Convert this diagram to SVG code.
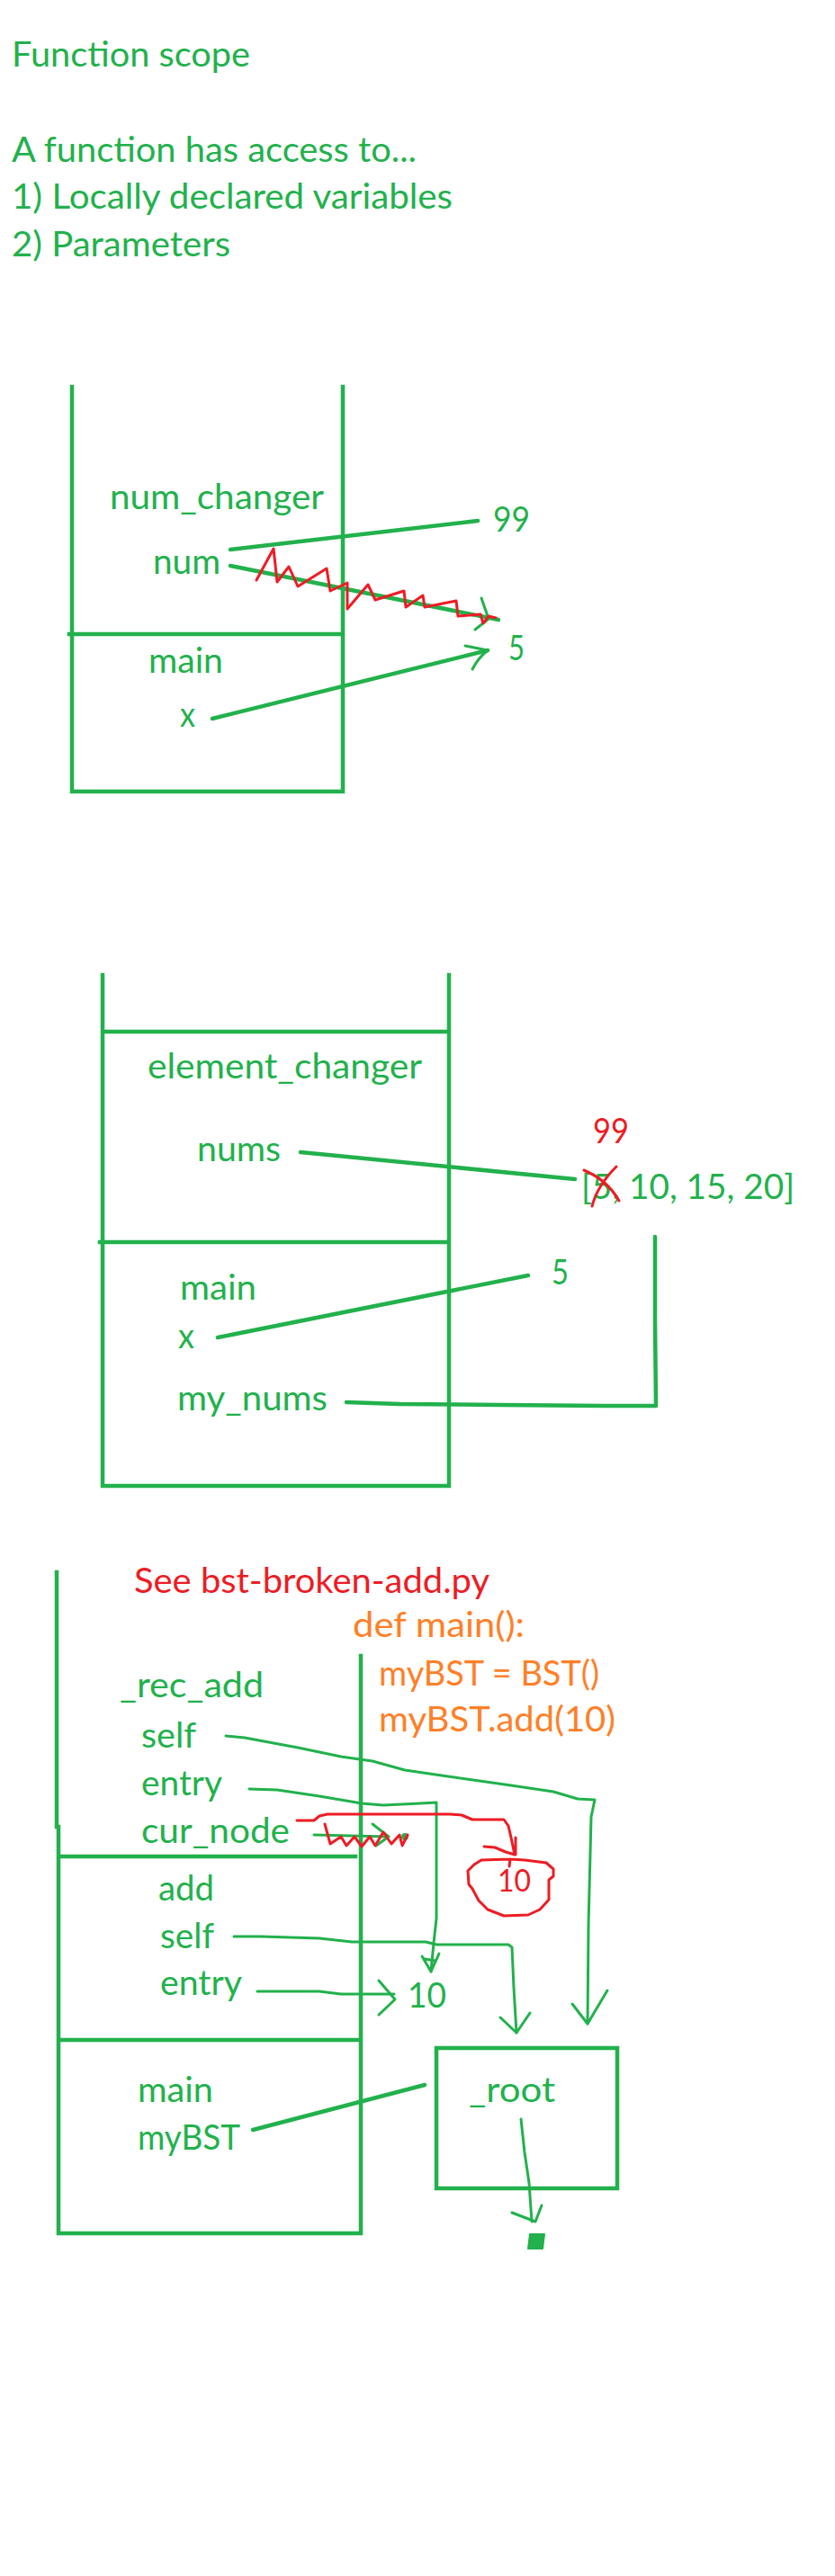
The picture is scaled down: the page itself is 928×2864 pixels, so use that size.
<svg xmlns="http://www.w3.org/2000/svg" width="928" height="2864" viewBox="0 0 928 2864">
<style>
text{font-family:Lato,"Liberation Sans",sans-serif;font-size:39px;fill:#22b14c}
.r{fill:#ed1c24}
.o{fill:#ff7f27}
.hw{font-size:34px}
.frame{fill:none;stroke:#22b14c;stroke-width:4.5;stroke-linecap:square}
.c{fill:none;stroke:#22b14c;stroke-width:4.5;stroke-linecap:round;stroke-linejoin:round}
.t{fill:none;stroke:#22b14c;stroke-width:3;stroke-linecap:round;stroke-linejoin:round}
.rs{fill:none;stroke:#ed1c24;stroke-width:3;stroke-linecap:round;stroke-linejoin:round}
</style>
<rect width="928" height="2864" fill="#fff"/>

<g id="title">
<text x="13" y="74" textLength="265" lengthAdjust="spacingAndGlyphs">Function scope</text>
<text x="13" y="180" textLength="450" lengthAdjust="spacingAndGlyphs">A function has access to...</text>
<text x="13" y="232" textLength="490" lengthAdjust="spacingAndGlyphs">1) Locally declared variables</text>
<text x="13" y="285" textLength="243" lengthAdjust="spacingAndGlyphs">2) Parameters</text>
</g>

<!-- Example 1 -->
<g id="stack1">
<path class="frame" d="M80,430 V880 H381 V430 M77,705 H381"/>
</g>
<g id="frame-num_changer">
<text x="122" y="566" textLength="238" lengthAdjust="spacingAndGlyphs">num_changer</text>
<text x="170" y="638" textLength="75" lengthAdjust="spacingAndGlyphs">num</text>
</g>
<g id="frame-main1">
<text x="165" y="748" textLength="83" lengthAdjust="spacingAndGlyphs">main</text>
<text x="200" y="808" textLength="17" lengthAdjust="spacingAndGlyphs">x</text>
</g>
<g id="val-99a"><text x="548" y="591" textLength="41" lengthAdjust="spacingAndGlyphs">99</text></g>
<g id="val-5a"><text x="565" y="734" textLength="18" lengthAdjust="spacingAndGlyphs">5</text></g>

<!-- Example 2 -->
<g id="stack2">
<path class="frame" d="M114,1084 V1652 H499 V1084 M114,1147 H499 M111,1381 H497"/>
</g>
<g id="frame-element_changer">
<text x="164" y="1199" textLength="305" lengthAdjust="spacingAndGlyphs">element_changer</text>
<text x="219" y="1291" textLength="93" lengthAdjust="spacingAndGlyphs">nums</text>
</g>
<g id="frame-main2">
<text x="200" y="1445" textLength="85" lengthAdjust="spacingAndGlyphs">main</text>
<text x="198" y="1499" textLength="18" lengthAdjust="spacingAndGlyphs">x</text>
<text x="197" y="1568" textLength="167" lengthAdjust="spacingAndGlyphs">my_nums</text>
</g>
<g id="val-list">
<text class="r" x="659" y="1271" textLength="40" lengthAdjust="spacingAndGlyphs">99</text>
<text x="646" y="1333" textLength="237" lengthAdjust="spacingAndGlyphs">[5, 10, 15, 20]</text>
<path class="rs" d="M649,1301 Q675,1312 688,1335 M685,1297 Q664,1318 658,1341"/>
</g>
<g id="val-5b"><text x="613" y="1428" textLength="19" lengthAdjust="spacingAndGlyphs">5</text></g>

<!-- Example 3 -->
<g id="stack3">
<path class="frame" d="M63,1748 V2031 M65,2031 V2483 H401 V1841 M65,2064 H395 M65,2268 H401"/>
</g>
<g id="notes">
<text class="r" x="149" y="1771" textLength="395" lengthAdjust="spacingAndGlyphs">See bst-broken-add.py</text>
<text class="o" x="392" y="1820" textLength="191" lengthAdjust="spacingAndGlyphs">def main():</text>
<text class="o" x="421" y="1874" textLength="245" lengthAdjust="spacingAndGlyphs">myBST = BST()</text>
<text class="o" x="421" y="1925" textLength="263" lengthAdjust="spacingAndGlyphs">myBST.add(10)</text>
</g>
<g id="frame-rec_add">
<text x="133" y="1887" textLength="160" lengthAdjust="spacingAndGlyphs">_rec_add</text>
<text x="157" y="1943" textLength="61" lengthAdjust="spacingAndGlyphs">self</text>
<text x="157" y="1996" textLength="90" lengthAdjust="spacingAndGlyphs">entry</text>
<text x="157" y="2049" textLength="165" lengthAdjust="spacingAndGlyphs">cur_node</text>
</g>
<g id="frame-add">
<text x="176" y="2113" textLength="62" lengthAdjust="spacingAndGlyphs">add</text>
<text x="178" y="2166" textLength="60" lengthAdjust="spacingAndGlyphs">self</text>
<text x="178" y="2218" textLength="91" lengthAdjust="spacingAndGlyphs">entry</text>
</g>
<g id="frame-main3">
<text x="153" y="2337" textLength="84" lengthAdjust="spacingAndGlyphs">main</text>
<text x="153" y="2390" textLength="114" lengthAdjust="spacingAndGlyphs">myBST</text>
</g>
<g id="val-10"><text x="453" y="2232" textLength="43" lengthAdjust="spacingAndGlyphs">10</text></g>
<g id="bst-object">
<rect x="485" y="2277" width="201" height="156" fill="none" stroke="#22b14c" stroke-width="4.5"/>
<text x="521" y="2337" textLength="96" lengthAdjust="spacingAndGlyphs">_root</text>
</g>
<g id="new-node">
<path class="rs" d="M535,2068 L567,2067 L583,2068 L607,2071 L615,2078 L615,2086 L610,2090 L610,2112 L600,2123 L587,2129 L560,2130 L542,2123 L532,2113 L525,2100 L521,2095 L520,2080 L527,2073 Z M566,2075 L567,2067"/>
<text class="r hw" x="553" y="2103" textLength="37" lengthAdjust="spacingAndGlyphs">10</text>
</g>
<g id="none-node"><path d="M589,2484 L605,2484 L603,2500 L587,2500 Z" fill="#22b14c" stroke="#22b14c" stroke-width="2" stroke-linejoin="round"/></g>

<g id="connectors">
<!-- example 1 -->
<path class="c" d="M256,611 L531,579"/>
<path class="c" d="M256,629 L554,689"/>
<path class="t" d="M535,665 L543,688 L528,700"/>
<path class="rs" d="M285,645 L304,610 L308,647 L321,630 L331,652 L363,632 L367,657 L386,648 L386,677 L409,650 L417,667 L449,657 L451,675 L470,662 L472,675 L507,668 L509,685 L534,683 L537,693 L543,685 L551,687"/>
<path class="c" d="M236,799 L542,723"/>
<path class="t" d="M517,718 L542,723 Q531,732 525,744"/>
<!-- example 2 -->
<path class="c" d="M334,1281 L639,1311"/>
<path class="c" d="M242,1487 L587,1418"/>
<path class="c" d="M385,1559 L444,1561 L556,1562 L672,1563 L729,1563 L728,1469 L728,1375"/>
<!-- example 3 -->
<path class="t" d="M251,1930 L272,1932 L331,1943 L379,1953 L414,1958 L450,1968 L491,1974 L533,1980 L568,1985 L615,1992 L642,2000 L661,2001 L657,2020 L654,2140 L653,2250"/>
<path class="t" d="M636,2228 L653,2250 L675,2213"/>
<path class="t" d="M277,1989 L308,1990 L355,1997 L402,2005 L426,2007 L467,2005 L485,2004 L485,2133 L482,2160 L479,2192"/>
<path class="t" d="M469,2175 L479,2192 L488,2172 M472,2178 L484,2180"/>
<path class="t" d="M349,2040 L430,2042 M414,2028 L432,2042 L418,2052"/>
<circle cx="450" cy="2042" r="4" fill="#22b14c"/>
<path class="rs" d="M361,2028 L367,2050 L379,2042 L385,2052 L394,2042 L402,2053 L411,2042 L417,2052 L426,2037 L435,2050 L444,2040 L447,2052 L453,2040"/>
<path class="rs" d="M330,2024 L349,2024 L355,2019 L364,2017 L500,2017 L513,2018 L525,2023 L560,2023 L565,2030 L568,2043 L572,2062 M573,2043 L573,2062 M538,2053 L550,2054 L562,2059 L572,2062"/>
<path class="t" d="M260,2153 L290,2153 L355,2155 L391,2159 L473,2159 L485,2162 L565,2162 L569,2165 L571,2210 L574,2260"/>
<path class="t" d="M556,2243 L574,2260 L589,2238"/>
<path class="t" d="M286,2214 L355,2214 L379,2217 L438,2217"/>
<path class="t" d="M421,2202 L439,2223 L421,2240"/>
<path class="c" d="M281,2368 L472,2318" stroke-width="5"/>
<path class="t" d="M579,2356 L583,2393 L588,2427 L591,2470"/>
<path class="t" d="M569,2460 L595,2470 L602,2452"/>
</g>
</svg>
